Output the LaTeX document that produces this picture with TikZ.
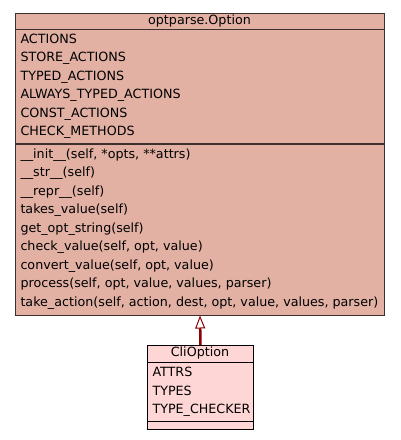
\documentclass[tikz,border=0pt]{standalone}
\usepackage{fontspec}
\setmainfont{DejaVu Sans}
\usetikzlibrary{arrows.meta, positioning}
\definecolor{cbase}{HTML}{E2B1A4}
\definecolor{csub}{HTML}{FFD6D6}
\definecolor{cedge}{HTML}{3B302C}
\definecolor{cinh}{HTML}{8B0000}
\tikzset{
  every picture/.style={font=\fontsize{12.7}{15}\selectfont, line width=1pt},
  classbox/.style={draw=#1, anchor=north west, inner sep=0pt},
  cname/.style={anchor=base, inner sep=0pt},
  member/.style={anchor=base west, inner sep=0pt},
  inherits/.style={-{Triangle[open, length=13pt, width=10pt, line width=1pt]}, draw=cinh, line width=2.5pt},
}
\begin{document}
\begin{tikzpicture}[x=1pt, y=-1pt]
  \useasboundingbox (0,0) rectangle (400,440);

  % base class
  \node[classbox=cedge, fill=cbase, minimum width=369pt, minimum height=302pt] (opt) at (15,12.5) {};
  \node[cname] (optname) at (199.5,24.5) {optparse.Option};
  \draw[cedge, line width=1.5pt] (15,29.5) -- (384,29.5);
  \draw[cedge, line width=2pt] (15,144) -- (384,144);
  \foreach \t [count=\i] in {ACTIONS, STORE\_ACTIONS, TYPED\_ACTIONS,
      ALWAYS\_TYPED\_ACTIONS, CONST\_ACTIONS, CHECK\_METHODS}
    \node[member] (opta\i) at (20, {43.2+(\i-1)*18.5}) {\t};
  \foreach \t [count=\i] in {{\_\_init\_\_(self, *opts, **attrs)}, {\_\_str\_\_(self)},
      {\_\_repr\_\_(self)}, {takes\_value(self)}, {get\_opt\_string(self)},
      {check\_value(self, opt, value)}, {convert\_value(self, opt, value)},
      {process(self, opt, value, values, parser)},
      {take\_action(self, action, dest, opt, value, values, parser)}}
    \node[member] (optm\i) at (20, {158.4+(\i-1)*18.5}) {\t};

  % sub class
  \node[classbox=black, fill=csub, minimum width=106pt, minimum height=84pt] (cli) at (147,345) {};
  \node[cname] (cliname) at (200,356.7) {CliOption};
  \draw (147,362.3) -- (253,362.3);
  \draw (147,421.5) -- (253,421.5);
  \foreach \t [count=\i] in {ATTRS, TYPES, TYPE\_CHECKER}
    \node[member] (clia\i) at (152, {376.3+(\i-1)*18.7}) {\t};

  \draw[inherits] (cli.north) -- (opt.south);
\end{tikzpicture}
\end{document}
